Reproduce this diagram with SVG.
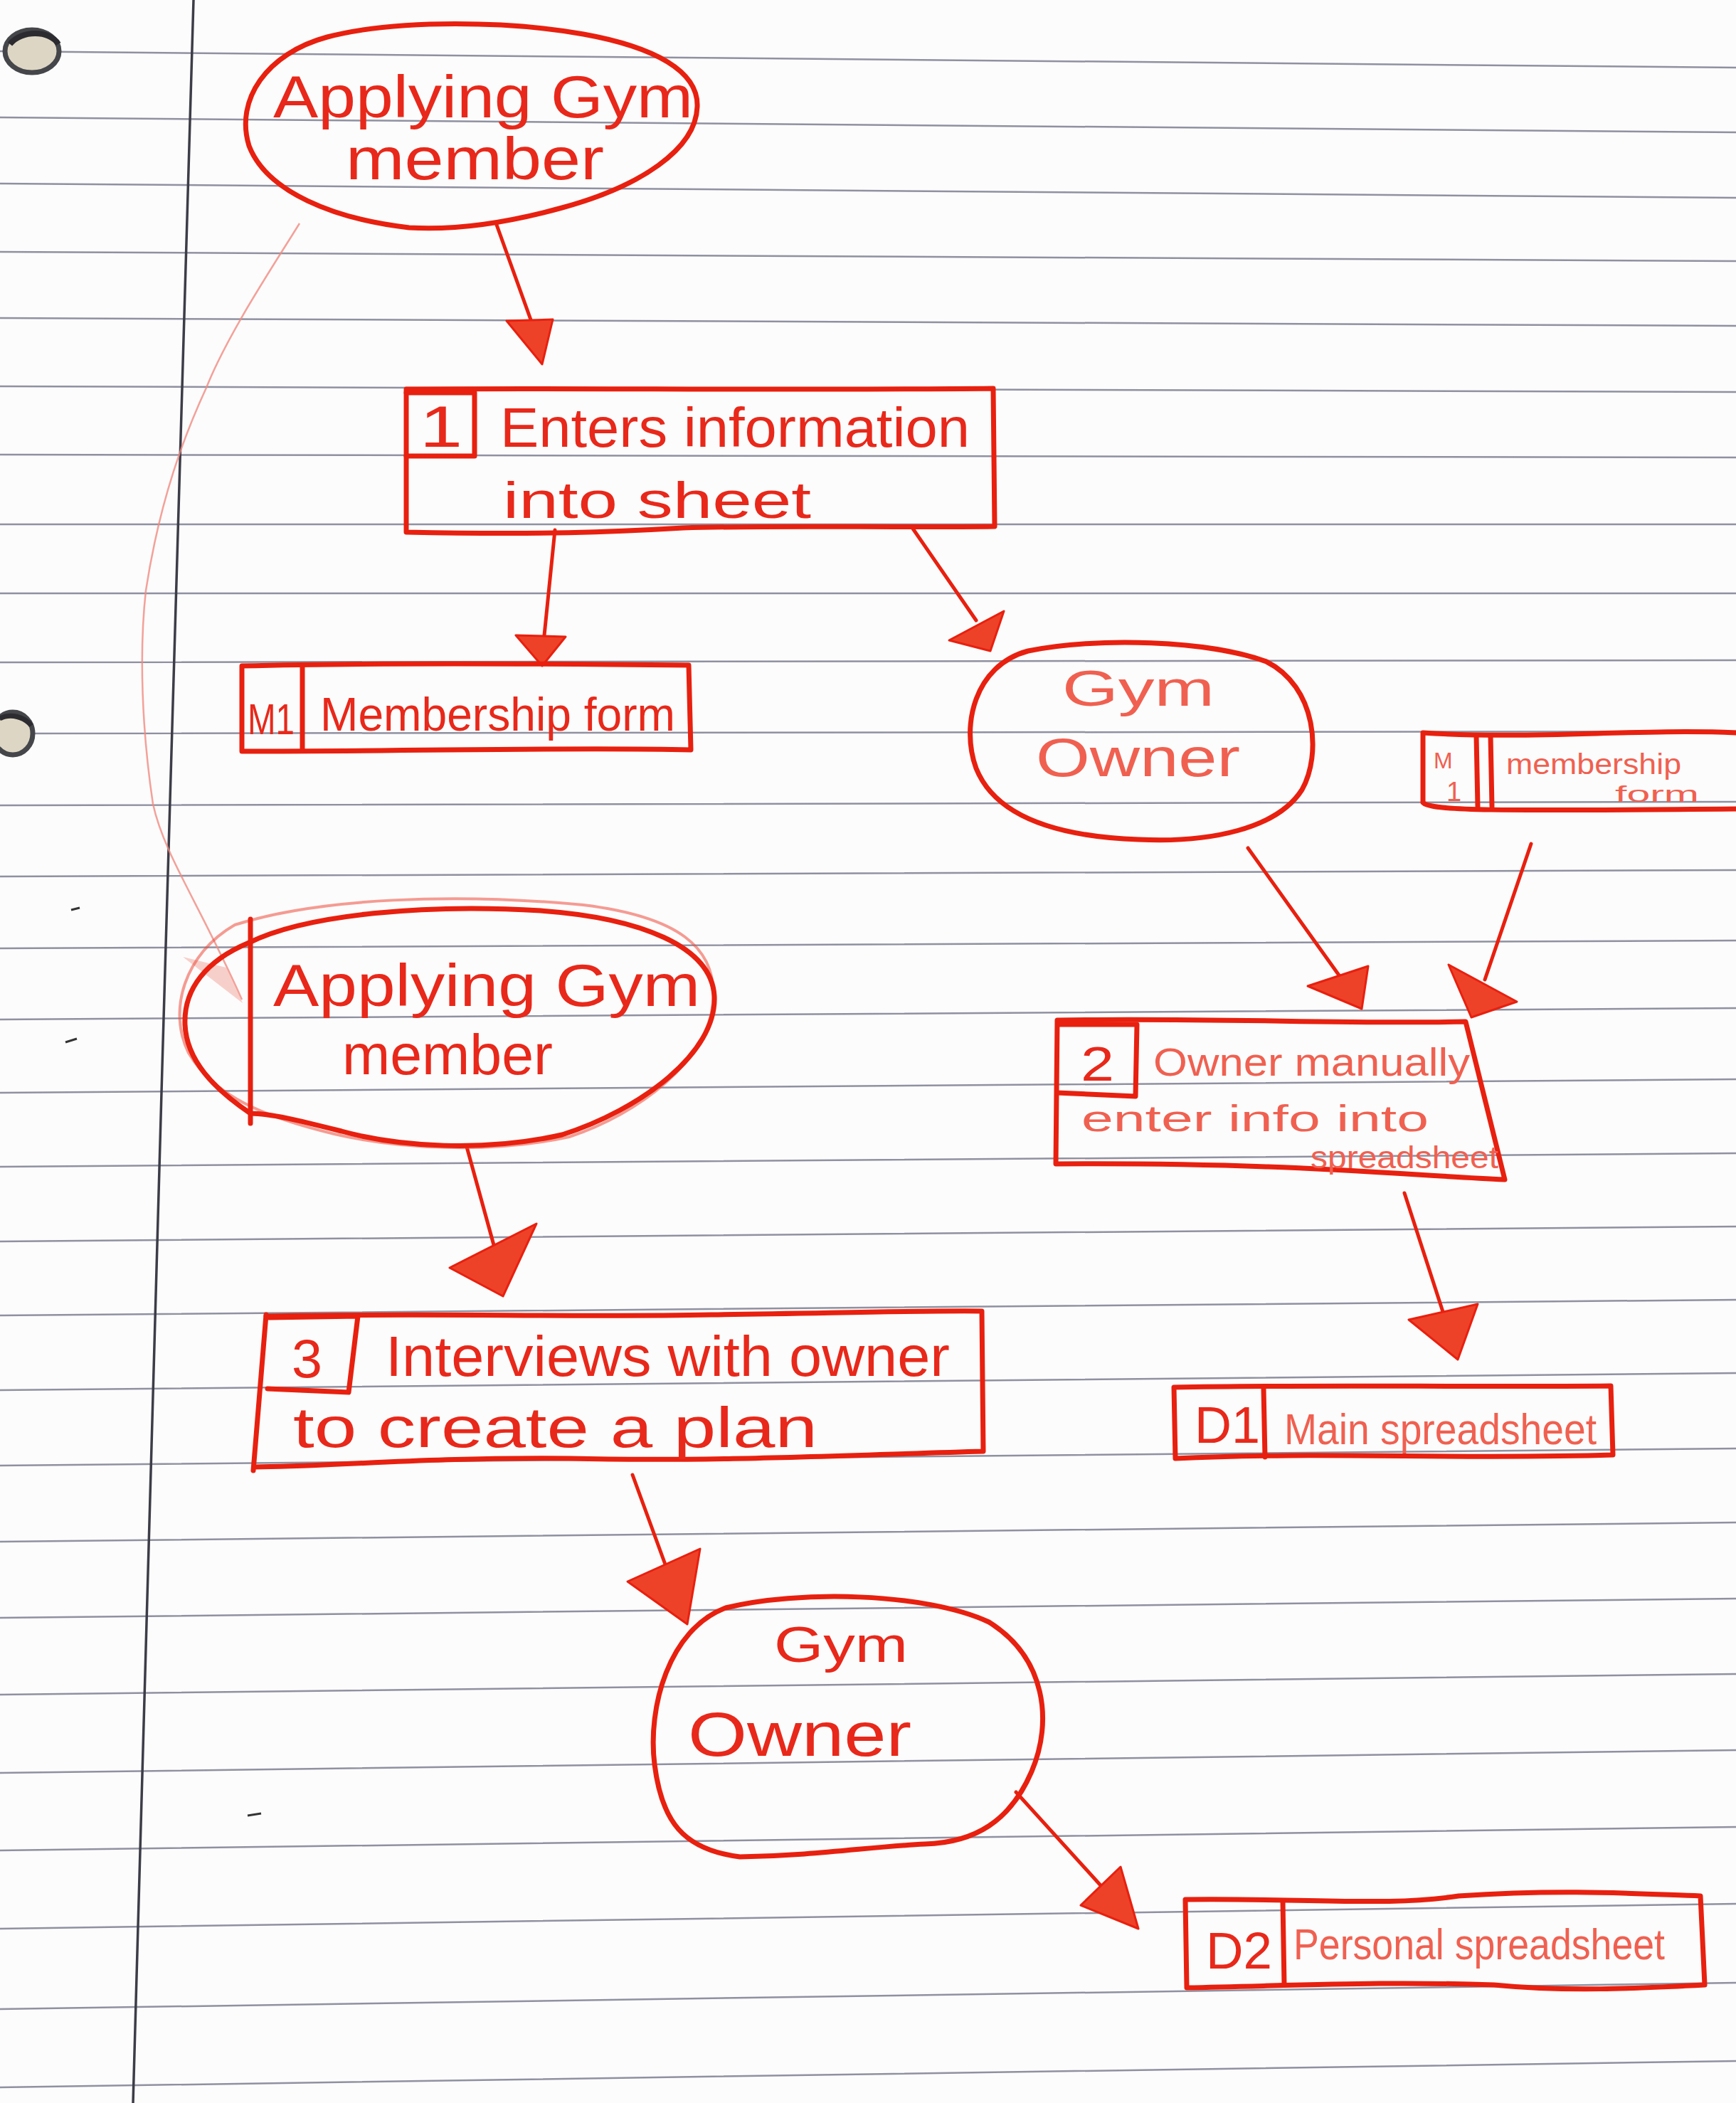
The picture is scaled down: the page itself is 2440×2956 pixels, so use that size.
<svg xmlns="http://www.w3.org/2000/svg" width="2440" height="2956" viewBox="0 0 2440 2956">
<style>
.paper{fill:#fcfcfc}
.rule{stroke:#7b7e90;stroke-width:2.5;fill:none;opacity:0.85}
.margin{stroke:#3c3d48;stroke-width:3.5;fill:none}
.ol{fill:none;stroke:#e8200f;stroke-width:7;stroke-linejoin:round;stroke-linecap:round}
.ol2{fill:none;stroke:#ee4a3a;stroke-width:4;opacity:0.55;stroke-linecap:round}
.con{fill:none;stroke:#e8200f;stroke-width:5;stroke-linecap:round}
.faint{fill:none;stroke:#f08a80;stroke-width:2.5;opacity:0.8}
.head{fill:#ee4228;stroke:#e8200f;stroke-width:3;stroke-linejoin:round}
.t{font-family:"Liberation Sans","DejaVu Sans",sans-serif;fill:#e8281a}
.ts{font-family:"Liberation Sans","DejaVu Sans",sans-serif;fill:#f06050}
</style>
<rect class="paper" x="0" y="0" width="2440" height="2956"/>
<g id="paper">
<path class="rule" d="M0,72 L2440,95 M0,165 L2440,186 M0,258 L2440,278 M0,354 L2440,367 M0,447 L2440,458 M0,543 L2440,551 M0,639 L2440,643 M0,737 L2440,737 M0,834 L2440,834 M0,931 L2440,928 M0,1031 L2440,1028 M0,1132 L2440,1127 M0,1232 L2440,1223 M0,1333 L2440,1322 M0,1433 L2440,1417 M0,1536 L2440,1517 M0,1640 L2440,1621 M0,1745 L2440,1724 M0,1849 L2440,1827 M0,1954 L2440,1930 M0,2060 L2440,2036 M0,2167 L2440,2140 M0,2274 L2440,2247 M0,2382 L2440,2353 M0,2492 L2440,2460 M0,2601 L2440,2568 M0,2711 L2440,2676 M0,2824 L2440,2787 M0,2934 L2440,2897"/>
<path class="margin" d="M272,0 L228,1500 L187,2956"/>
<ellipse cx="45" cy="72" rx="38" ry="30" fill="#ddd6c4" stroke="#45464a" stroke-width="7"/>
<path d="M14,62 C30,42 70,42 82,62" fill="none" stroke="#2c2c30" stroke-width="8"/>
<ellipse cx="18" cy="1031" rx="28" ry="30" fill="#ddd6c4" stroke="#45464a" stroke-width="7"/>
<path d="M0,1010 C15,1002 35,1008 44,1020" fill="none" stroke="#2c2c30" stroke-width="7"/>
<path d="M100,1279 L112,1276 M92,1465 L108,1460 M348,2552 L367,2549" stroke="#333" stroke-width="3"/>
</g>
<g id="connectors">
<path class="faint" d="M421,314 C380,380 320,470 290,545 C260,610 225,700 205,830 C195,920 200,1030 215,1130 C230,1200 280,1270 340,1405"/>
<polygon points="257,1345 341,1410 318,1360" fill="#f4b0a8" opacity="0.6"/>
<path class="con" d="M698,316 L748,455"/>
<polygon class="head" points="712,451 777,449 762,512"/>
<path class="con" d="M780,745 L765,893"/>
<polygon class="head" points="725,893 795,895 762,936"/>
<path class="con" d="M1283,743 L1372,872"/>
<polygon class="head" points="1334,900 1411,859 1392,915"/>
<path class="con" d="M1754,1192 L1890,1382"/>
<polygon class="head" points="1838,1386 1923,1358 1914,1418"/>
<path class="con" d="M2152,1186 L2087,1377"/>
<polygon class="head" points="2036,1356 2132,1408 2068,1430"/>
<path class="con" d="M1974,1677 L2030,1850"/>
<polygon class="head" points="1980,1855 2077,1833 2049,1911"/>
<path class="con" d="M656,1612 L694,1750"/>
<polygon class="head" points="632,1782 754,1720 707,1822"/>
<path class="con" d="M889,2073 L950,2240"/>
<polygon class="head" points="882,2223 984,2177 966,2283"/>
<path class="con" d="M1428,2519 L1565,2670"/>
<polygon class="head" points="1519,2678 1575,2624 1600,2711"/>
</g>
<g id="applying-member-1">
<path class="ol" d="M575,320 C470,308 375,270 350,205 C330,140 375,75 460,52 C560,26 720,30 820,48 C920,66 982,100 980,150 C978,210 900,262 790,292 C710,314 640,324 575,320 Z"/>
<text class="t" x="384" y="165" font-size="84" textLength="590" lengthAdjust="spacingAndGlyphs">Applying Gym</text>
<text class="t" x="486" y="252" font-size="84" textLength="363" lengthAdjust="spacingAndGlyphs">member</text>
</g>
<g id="process-1">
<path class="ol" d="M571,547 C800,545 1100,549 1396,546 L1398,740 C1250,742 1100,738 960,742 C860,748 760,752 571,748 Z"/>
<path class="ol" d="M571,552 L667,552 L667,641 L571,641"/>
<text class="t" x="590" y="628" font-size="82" textLength="60" lengthAdjust="spacingAndGlyphs">1</text>
<text class="t" x="703" y="628" font-size="78" textLength="660" lengthAdjust="spacingAndGlyphs">Enters information</text>
<text class="t" x="707" y="728" font-size="72" textLength="433" lengthAdjust="spacingAndGlyphs">into sheet</text>
</g>
<g id="store-m1">
<path class="ol" d="M340,936 C500,932 700,932 968,935 L971,1054 C800,1050 600,1056 340,1056 Z"/>
<path class="ol" d="M425,938 L425,1052"/>
<text class="t" x="348" y="1032" font-size="62" textLength="66" lengthAdjust="spacingAndGlyphs">M1</text>
<text class="t" x="450" y="1027" font-size="66" textLength="499" lengthAdjust="spacingAndGlyphs">Membership form</text>
</g>
<g id="gym-owner-1">
<path class="ol" d="M1445,915 C1540,895 1700,900 1780,930 C1850,965 1858,1060 1830,1110 C1795,1165 1700,1185 1600,1180 C1490,1176 1400,1150 1372,1080 C1350,1020 1370,935 1445,915 Z"/>
<text class="ts" x="1493" y="992" font-size="70" textLength="214" lengthAdjust="spacingAndGlyphs">Gym</text>
<text class="ts" x="1456" y="1091" font-size="76" textLength="287" lengthAdjust="spacingAndGlyphs">Owner</text>
</g>
<g id="store-m1-right">
<path class="ol" d="M2440,1030 C2300,1024 2150,1040 2000,1030 L2000,1128 C2010,1140 2100,1140 2440,1137"/>
<path class="ol" d="M2075,1034 L2077,1134 M2095,1034 L2097,1134"/>
<text class="ts" x="2015" y="1080" font-size="32">M</text>
<text class="ts" x="2033" y="1126" font-size="38">1</text>
<text class="ts" x="2117" y="1088" font-size="40" textLength="246" lengthAdjust="spacingAndGlyphs">membership</text>
<text class="ts" x="2270" y="1127" font-size="32" textLength="118" lengthAdjust="spacingAndGlyphs">form</text>
</g>
<g id="process-2">
<path class="ol" d="M1486,1434 C1700,1430 1900,1440 2060,1436 L2115,1658 C1950,1650 1800,1634 1484,1636 Z"/>
<path class="ol" d="M1489,1440 L1598,1440 L1596,1541 L1486,1536"/>
<text class="t" x="1519" y="1519" font-size="68" textLength="47" lengthAdjust="spacingAndGlyphs">2</text>
<text class="ts" x="1621" y="1512" font-size="56" textLength="445" lengthAdjust="spacingAndGlyphs">Owner manually</text>
<text class="ts" x="1520" y="1590" font-size="52" textLength="488" lengthAdjust="spacingAndGlyphs">enter info into</text>
<text class="ts" x="1842" y="1642" font-size="44" textLength="264" lengthAdjust="spacingAndGlyphs">spreadsheet</text>
</g>
<g id="store-d1">
<path class="ol" d="M1650,1950 C1850,1946 2050,1950 2264,1948 L2267,2045 C2050,2052 1850,2040 1652,2050 Z"/>
<path class="ol" d="M1776,1952 L1778,2048"/>
<text class="t" x="1679" y="2028" font-size="72" textLength="92" lengthAdjust="spacingAndGlyphs">D1</text>
<text class="ts" x="1805" y="2030" font-size="62" textLength="439" lengthAdjust="spacingAndGlyphs">Main spreadsheet</text>
</g>
<g id="applying-member-2">
<path class="ol2" d="M330,1300 C450,1262 640,1255 820,1272 C950,1288 1010,1330 1002,1410 C995,1490 900,1565 800,1598 C690,1622 560,1615 470,1594 C370,1570 300,1540 265,1480 C235,1420 260,1340 330,1300 Z"/>
<path class="ol" d="M350,1325 C430,1285 600,1270 760,1280 C900,1290 1000,1330 1004,1400 C1008,1480 900,1560 790,1595 C680,1620 560,1612 480,1590 C420,1575 380,1565 352,1565 C300,1530 262,1490 260,1440 C258,1390 290,1350 350,1325 Z"/>
<path class="ol" d="M352,1292 L352,1579"/>
<text class="t" x="384" y="1414" font-size="84" textLength="600" lengthAdjust="spacingAndGlyphs">Applying Gym</text>
<text class="t" x="481" y="1510" font-size="80" textLength="296" lengthAdjust="spacingAndGlyphs">member</text>
</g>
<g id="process-3">
<path class="ol" d="M374,1850 C600,1845 800,1852 1000,1848 C1200,1845 1300,1842 1380,1843 L1382,2040 C1200,2045 1000,2055 800,2050 C600,2048 450,2062 360,2062"/>
<path class="ol" d="M374,1848 L356,2067"/>
<path class="ol" d="M378,1852 L503,1850 L490,1957 L376,1952"/>
<text class="t" x="410" y="1936" font-size="76" textLength="43" lengthAdjust="spacingAndGlyphs">3</text>
<text class="t" x="542" y="1934" font-size="80" textLength="793" lengthAdjust="spacingAndGlyphs">Interviews with owner</text>
<text class="t" x="412" y="2034" font-size="80" textLength="737" lengthAdjust="spacingAndGlyphs">to create a plan</text>
</g>
<g id="gym-owner-2">
<path class="ol" d="M1020,2260 C1120,2235 1300,2238 1390,2280 C1470,2330 1480,2420 1450,2490 C1420,2560 1370,2590 1300,2592 C1220,2596 1150,2608 1040,2610 C960,2600 930,2560 920,2480 C910,2400 940,2290 1020,2260 Z"/>
<text class="t" x="1088" y="2336" font-size="70" textLength="188" lengthAdjust="spacingAndGlyphs">Gym</text>
<text class="t" x="967" y="2468" font-size="88" textLength="314" lengthAdjust="spacingAndGlyphs">Owner</text>
</g>
<g id="store-d2">
<path class="ol" d="M1666,2670 C1850,2668 1950,2680 2050,2665 C2200,2655 2300,2662 2390,2665 L2396,2790 C2300,2795 2200,2800 2100,2790 C1950,2785 1850,2790 1668,2794 Z"/>
<path class="ol" d="M1803,2672 L1805,2790"/>
<text class="t" x="1695" y="2767" font-size="72" textLength="93" lengthAdjust="spacingAndGlyphs">D2</text>
<text class="ts" x="1818" y="2754" font-size="62" textLength="522" lengthAdjust="spacingAndGlyphs">Personal spreadsheet</text>
</g>
</svg>
